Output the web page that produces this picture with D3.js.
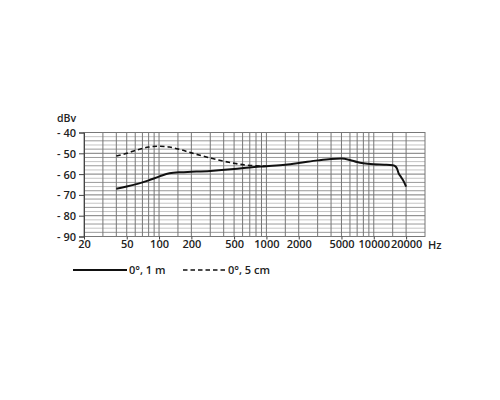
<!DOCTYPE html>
<html><head><meta charset="utf-8">
<script src="https://cdn.jsdelivr.net/npm/d3@7"></script>
<style>body{margin:0;background:#fff}svg{display:block}text{font-family:"Open Sans",sans-serif;fill:#222;font-weight:600}</style>
</head><body><svg id="c" width="500" height="400"></svg>
<script>
const xTicks = [20, 50, 100, 200, 500, 1000, 2000, 5000, 10000, 20000];
const xGrid = [30,40,50,60,70,80,90,100,150,200,300,400,500,600,700,800,900,1000,1500,2000,3000,4000,5000,6000,7000,8000,9000,10000,15000,20000];
const yTicks = [-40, -50, -60, -70, -80, -90];
const seriesNames = ["0°, 1 m", "0°, 5 cm"];
const freq1m = [40,50,63,80,100,125,160,200,300,500,700,1000,1500,2000,3000,4000,5000,6000,7000,8000,10000,12500,15000,16000,16500,17000,18000,19000,20000];
const db1m  = [-67,-66,-64.7,-63,-61.2,-59.6,-59.1,-58.9,-58.5,-57.6,-56.8,-56.2,-55.5,-54.7,-53.4,-52.7,-52.5,-53.2,-54.2,-54.8,-55.3,-55.5,-55.8,-56.4,-57.5,-59.5,-61.5,-63.5,-66];
const freq5cm = [40,50,63,80,100,125,160,200,250,315,400,500,630,800,1000];
const db5cm  = [-51.3,-50,-48.3,-47,-46.6,-47,-48.3,-49.8,-51.2,-52.5,-53.8,-54.8,-55.6,-56,-56.2];

const svg = d3.select("#c");
const x = d3.scaleLog().domain([20, 30000]).range([84, 425]);
const y = d3.scaleLinear().domain([-90, -40]).range([236.5, 132.5]);

const g = svg.append("g");
d3.range(-88, -40, 2).forEach((v,i) => {
  g.append("line").attr("x1", x(20)).attr("x2", x(30000))
   .attr("y1", y(v)).attr("y2", y(v))
   .attr("stroke", (v % 10 === 0) ? "#7a7a7a" : (i % 2 ? "#c4c4c4" : "#999")).attr("stroke-width", 1);
});
xGrid.forEach(f => {
  g.append("line").attr("x1", x(f)).attr("x2", x(f))
   .attr("y1", y(-40)).attr("y2", y(-90))
   .attr("stroke", "#777").attr("stroke-width", 1);
});
g.append("rect").attr("x", x(20)).attr("y", y(-40)).attr("width", x(30000)-x(20)).attr("height", y(-90)-y(-40))
 .attr("fill", "none").attr("stroke", "#777");

const yAxis = d3.axisLeft(y).tickValues(yTicks).tickSize(5).tickFormat(d => "- " + Math.abs(d));
const ya = svg.append("g").attr("transform", `translate(${x(20)},0)`).call(yAxis);
ya.select(".domain").attr("stroke", "#444");
ya.selectAll(".tick line").attr("stroke", "#444");
ya.selectAll("text").attr("font-size", 11).attr("font-family", "Open Sans").attr("font-weight", 600).attr("fill", "#222").attr("x", -8).attr("dy", "0.36em");

const xAxis = d3.axisBottom(x).tickValues(xTicks).tickSize(3).tickFormat(d => d);
const xa = svg.append("g").attr("transform", `translate(0,${y(-90)})`).call(xAxis);
xa.select(".domain").remove();
xa.selectAll(".tick line").attr("stroke", "#444");
xa.selectAll("text").attr("font-size", 11).attr("font-family", "Open Sans").attr("font-weight", 600).attr("fill", "#222").attr("y", 4);

svg.append("text").attr("x", 57).attr("y", 122).attr("font-size", 10.5).text("dBv");
svg.append("text").attr("x", 428).attr("y", y(-90) + 12).attr("font-size", 11).text("Hz");

const line = d3.line().x(d => x(d[0])).y(d => y(d[1])).curve(d3.curveMonotoneX);
svg.append("path").datum(freq1m.map((f,i) => [f, db1m[i]])).attr("d", line)
  .attr("fill", "none").attr("stroke", "#111").attr("stroke-width", 2);
svg.append("path").datum(freq5cm.map((f,i) => [f, db5cm[i]])).attr("d", line)
  .attr("fill", "none").attr("stroke", "#111").attr("stroke-width", 1.6).attr("stroke-dasharray", "4.5,3");

const ly = 270;
svg.append("line").attr("x1", 73).attr("x2", 127).attr("y1", ly).attr("y2", ly).attr("stroke", "#111").attr("stroke-width", 2);
svg.append("text").attr("x", 129).attr("y", ly + 4).attr("font-size", 11).text(seriesNames[0]);
svg.append("line").attr("x1", 183).attr("x2", 226).attr("y1", ly).attr("y2", ly).attr("stroke", "#111").attr("stroke-width", 1.4).attr("stroke-dasharray", "4.5,3");
svg.append("text").attr("x", 228).attr("y", ly + 4).attr("font-size", 11).text(seriesNames[1]);
</script></body></html>
